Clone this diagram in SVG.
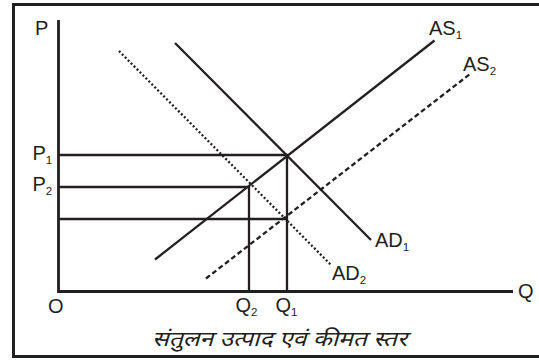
<svg xmlns="http://www.w3.org/2000/svg" width="539" height="360" viewBox="0 0 539 360">
<style>
.lbl{font-family:"Liberation Sans",Arial,sans-serif;font-size:20px;fill:#231f20}
.sub{font-size:11.5px}
.ln{stroke:#231f20;stroke-width:2.3;fill:none}
.ax{stroke:#231f20;stroke-width:2.8;fill:none}
.dash{stroke:#231f20;stroke-width:2.3;fill:none;stroke-dasharray:5 3}
.dot{stroke:#231f20;stroke-width:2.3;fill:none;stroke-dasharray:2 2.2}
.cap{font-family:"Noto Sans Devanagari","Noto Sans","Lohit Devanagari",sans-serif;font-size:21px;font-style:italic;fill:#231f20}
</style>
<rect x="0" y="0" width="539" height="360" fill="#fff"/>
<rect x="13.5" y="4.5" width="535" height="352" fill="none" stroke="#231f20" stroke-width="3"/>
<g id="axes">
<path class="ax" d="M58.5 20V291.5H513"/>
</g>
<g id="connectors">
<path class="ln" d="M58 155H287V291"/>
<path class="ln" d="M58 187H249V291"/>
<path class="ln" d="M58 219H286"/>
</g>
<g id="AS1"><path class="ln" d="M155 259.5L434.5 40.5"/></g>
<g id="AS2"><path class="dash" d="M206 278.5L470 74"/></g>
<g id="AD1"><path class="ln" d="M175 43L371 240"/></g>
<g id="AD2"><path class="dot" d="M119 51L331 265"/></g>
<g id="labels">
<text class="lbl" x="35" y="35">P</text>
<text class="lbl" x="32.5" y="160">P<tspan class="sub" dy="4">1</tspan></text>
<text class="lbl" x="32.5" y="191">P<tspan class="sub" dy="4">2</tspan></text>
<text class="lbl" x="48" y="313">O</text>
<text class="lbl" x="235.5" y="312">Q<tspan class="sub" dy="4">2</tspan></text>
<text class="lbl" x="275.5" y="312">Q<tspan class="sub" dy="4">1</tspan></text>
<text class="lbl" x="518" y="298">Q</text>
<text class="lbl" x="375" y="247">AD<tspan class="sub" dy="4">1</tspan></text>
<text class="lbl" x="332" y="279.5">AD<tspan class="sub" dy="4">2</tspan></text>
<text class="lbl" x="429" y="35">AS<tspan class="sub" dy="4">1</tspan></text>
<text class="lbl" x="463" y="70.5">AS<tspan class="sub" dy="4">2</tspan></text>
<text class="cap" x="152" y="346" textLength="255" lengthAdjust="spacingAndGlyphs">संतुलन उत्पाद एवं कीमत स्तर</text>
</g>
</svg>
